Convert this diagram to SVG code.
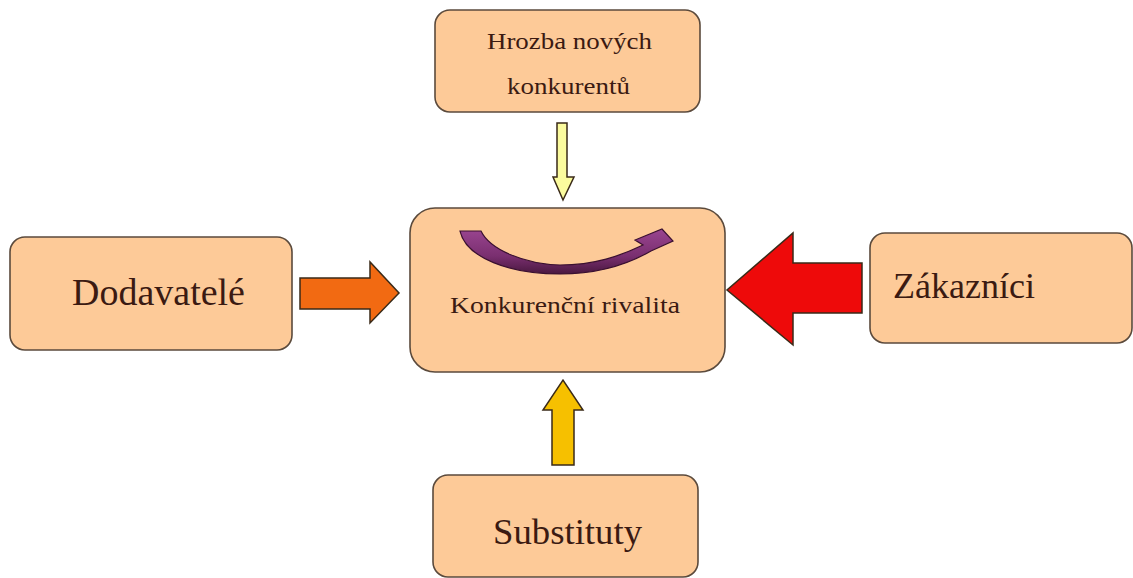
<svg xmlns="http://www.w3.org/2000/svg" width="1133" height="578" viewBox="0 0 1133 578">
  <defs>
    <style>
      .box { fill: #fdca98; stroke: #5b4a3c; stroke-width: 1.6; }
      .lbl { font-family: "Liberation Serif", "Times New Roman", serif; fill: #3b1a12; }
      .arr { stroke: #3a2a18; stroke-width: 1.5; stroke-linejoin: miter; }
    </style>
    <linearGradient id="purple" x1="0" y1="0" x2="0" y2="1">
      <stop offset="0" stop-color="#9a4590"/>
      <stop offset="0.6" stop-color="#7a2f70"/>
      <stop offset="1" stop-color="#4a1840"/>
    </linearGradient>
  </defs>
  <rect width="1133" height="578" fill="#ffffff"/>

  <g id="node-hrozba">
    <rect class="box" x="435" y="10" width="265" height="102" rx="15"/>
    <text class="lbl" font-family="Liberation Serif, serif" x="487" y="49" font-size="23" textLength="165" lengthAdjust="spacingAndGlyphs">Hrozba nových</text>
    <text class="lbl" font-family="Liberation Serif, serif" x="507" y="94" font-size="23" textLength="123" lengthAdjust="spacingAndGlyphs">konkurentů</text>
  </g>

  <g id="node-rivalita">
    <rect class="box" x="410" y="208" width="315" height="164" rx="25"/>
    <path d="M460,231 L481,231 C490,250 525,264 560,265 C595,265 620,256 643,245 L635,240 L662,229 L673,241 L651,251 C625,266 595,274 560,274 C510,274 466,258 460,231 Z" fill="url(#purple)" stroke="#3a1030" stroke-width="1.2" stroke-linejoin="miter"/>
    <text class="lbl" font-family="Liberation Serif, serif" x="450" y="313" font-size="23" textLength="230" lengthAdjust="spacingAndGlyphs">Konkurenční rivalita</text>
  </g>

  <g id="node-dodavatele">
    <rect class="box" x="10" y="237" width="282" height="113" rx="15"/>
    <text class="lbl" font-family="Liberation Serif, serif" x="72" y="305" font-size="37" textLength="173" lengthAdjust="spacingAndGlyphs">Dodavatelé</text>
  </g>

  <g id="node-zakaznici">
    <rect class="box" x="870" y="233" width="262" height="110" rx="15"/>
    <text class="lbl" font-family="Liberation Serif, serif" x="893" y="298" font-size="36" textLength="142" lengthAdjust="spacingAndGlyphs">Zákazníci</text>
  </g>

  <g id="node-substituty">
    <rect class="box" x="433" y="475" width="265" height="102" rx="15"/>
    <text class="lbl" font-family="Liberation Serif, serif" x="493" y="544" font-size="36" textLength="149" lengthAdjust="spacingAndGlyphs">Substituty</text>
  </g>

  <g id="connectors">
    <polygon class="arr" fill="#fbfb9e" points="557,123 567,123 567,177 574,177 563,200 553,177 557,177"/>
    <polygon class="arr" fill="#f26a12" points="300,278 370,278 370,262 399,293 370,323 370,309 300,309"/>
    <polygon class="arr" fill="#ee0a0a" points="862,263 793,263 793,233 727,290 793,345 793,313 862,313"/>
    <polygon class="arr" fill="#f6c000" points="552,465 552,410 543,410 563,380 583,410 574,410 574,465"/>
  </g>
</svg>
